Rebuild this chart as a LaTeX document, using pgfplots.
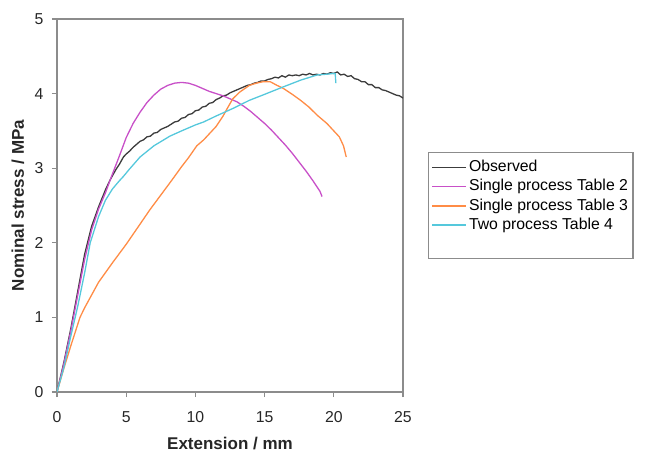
\documentclass[border=0pt]{standalone}
\usepackage{pgfplots}
\pgfplotsset{compat=1.18}
\usepackage{fontspec}
\setmainfont{Liberation Sans}
\definecolor{obs}{RGB}{60,60,60}
\definecolor{mag}{RGB}{200,80,200}
\definecolor{orng}{RGB}{255,140,70}
\definecolor{cyn}{RGB}{85,200,220}
\definecolor{axg}{RGB}{140,140,140}
\begin{document}
\begin{tikzpicture}
\useasboundingbox (0,0) rectangle (647bp,452bp);
\begin{axis}[
  at={(57bp,60bp)}, anchor=south west,
  scale only axis, width=346bp, height=373bp,
  xmin=0, xmax=25, ymin=0, ymax=5,
  xtick={0,5,10,15,20,25}, ytick={0,1,2,3,4,5},
  tick pos=left, tick align=outside,
  major tick length=5bp,
  axis line style={axg, line width=1.6bp},
  every tick/.style={axg, line width=1.2bp},
  /pgf/number format/assume math mode=true,
  tick label style={font=\fontsize{15.8bp}{18bp}\selectfont, text=black!85},
  xticklabel style={yshift=-11bp},
  yticklabel style={xshift=-5bp},
  xlabel={Extension / mm}, ylabel={Nominal stress / MPa},
  label style={font=\fontsize{17bp}{20bp}\selectfont\bfseries, text=black!85},
  xlabel style={at={(axis description cs:0.5,-0.137)}, anchor=center},
  ylabel style={at={(axis description cs:-0.113,0.5)}, anchor=center},
  legend style={at={(1.072,0.643)}, anchor=north west, draw=axg, line width=1.2bp,
    inner xsep=3bp, inner ysep=5bp, fill=white,
    nodes={font=\fontsize{15.8bp}{18bp}\selectfont, inner ysep=1.35bp, inner xsep=2bp, text height=12.5bp, text depth=4bp}},
  legend cell align=left,
  legend image code/.code={\draw[#1, line width=1.5bp] plot coordinates {(0bp,0bp) (34bp,0bp)};},
  every axis plot/.append style={line width=1.3bp},
]
\addplot[obs] coordinates {
(0,0) (0.5,0.4) (1,0.85) (1.5,1.35) (2,1.85) (2.5,2.22) (3,2.48) (3.5,2.71) (3.83,2.84)
(4.25,2.98) (4.5,3.05) (4.8,3.15) (5.0,3.19) (5.25,3.23) (5.5,3.28) (5.75,3.32) (6.0,3.36)
(6.25,3.38) (6.5,3.42) (6.75,3.43) (7.0,3.47) (7.25,3.48) (7.5,3.52) (7.75,3.54) (8.0,3.56)
(8.25,3.59) (8.5,3.62) (8.75,3.63) (9.0,3.67) (9.25,3.68) (9.5,3.72) (9.75,3.73) (10.0,3.77)
(10.25,3.78) (10.5,3.82) (10.75,3.83) (11.0,3.87) (11.25,3.88) (11.5,3.92) (11.75,3.94)
(12.0,3.97) (12.25,3.98) (12.5,4.01) (12.75,4.03) (13.0,4.05) (13.25,4.07) (13.5,4.09)
(13.75,4.11) (14.0,4.12) (14.25,4.14) (14.5,4.15) (14.75,4.17) (15.0,4.17) (15.25,4.19)
(15.5,4.20) (15.75,4.22) (16.0,4.21) (16.25,4.24) (16.5,4.22) (16.75,4.25) (17.0,4.24)
(17.25,4.25) (17.5,4.24) (17.75,4.26) (18.0,4.25) (18.25,4.27) (18.5,4.25) (18.75,4.26)
(19.0,4.25) (19.25,4.27) (19.5,4.26) (19.75,4.28) (20.0,4.27) (20.25,4.29) (20.5,4.25)
(20.75,4.26) (21.0,4.23) (21.25,4.24) (21.5,4.20) (21.75,4.19) (22.0,4.16) (22.25,4.16)
(22.5,4.12) (22.75,4.12) (23.0,4.08) (23.25,4.08) (23.5,4.05) (23.75,4.04) (24.0,4.02)
(24.25,4.00) (24.5,3.98) (24.75,3.97) (25.0,3.94)
};
\addlegendentry{Observed}
\addplot[mag] coordinates {
(0,0) (0.5,0.38) (1,0.82) (1.5,1.3) (2,1.78) (2.5,2.17) (3,2.45) (3.5,2.67) (4,2.92)
(4.5,3.16) (5,3.41) (5.5,3.6) (6,3.75) (6.5,3.88) (7,3.98) (7.5,4.06) (8,4.11) (8.5,4.14)
(9,4.15) (9.5,4.14) (10,4.11) (10.5,4.07) (11,4.03) (11.5,4.0) (12,3.97) (12.5,3.93)
(13,3.89) (13.5,3.83) (14,3.76) (14.5,3.68) (15,3.6) (15.5,3.51) (16,3.41) (16.5,3.31)
(17,3.2) (17.5,3.08) (18,2.96) (18.5,2.83) (19,2.69) (19.15,2.62)
};
\addlegendentry{Single process Table 2}
\addplot[orng] coordinates {
(0,0) (0.5,0.32) (1,0.62) (1.66,1.0) (2,1.13) (2.5,1.3) (3,1.47) (3.5,1.6) (4,1.73)
(5,1.98) (6,2.25) (6.7,2.44) (7.5,2.64) (8.3,2.84) (9,3.02) (9.5,3.14) (10.1,3.3)
(10.6,3.38) (11.5,3.56) (12.0,3.7) (12.3,3.8) (12.7,3.93) (13.2,4.02) (13.9,4.11)
(14.4,4.14) (14.9,4.16) (15.4,4.16) (15.9,4.11) (16.35,4.07) (17.0,3.99) (17.6,3.91)
(18.2,3.82) (18.8,3.71) (19.5,3.6) (20.0,3.5) (20.4,3.42) (20.7,3.3) (20.9,3.15)
};
\addlegendentry{Single process Table 3}
\addplot[cyn] coordinates {
(0,0) (0.5,0.33) (1,0.75) (1.5,1.15) (2,1.6) (2.4,2.0) (3,2.35) (3.5,2.57) (4,2.72)
(4.5,2.83) (4.8,2.89) (5.2,2.98) (6.0,3.15) (7,3.3) (8.16,3.43) (9,3.5) (10,3.58)
(10.6,3.62) (11.5,3.7) (12.7,3.8) (13.9,3.91) (15,3.99) (16.35,4.09) (17.6,4.18)
(18.8,4.25) (19.5,4.26) (20.0,4.27) (20.1,4.27) (20.15,4.14)
};
\addlegendentry{Two process Table 4}
\addlegendimage{empty legend}
\addlegendentry{}
\end{axis}
\end{tikzpicture}
\end{document}
